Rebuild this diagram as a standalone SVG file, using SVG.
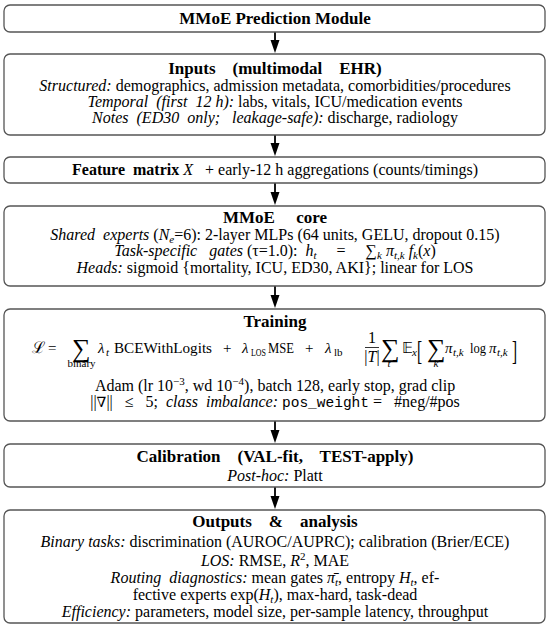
<svg xmlns="http://www.w3.org/2000/svg" width="550" height="630" viewBox="0 0 550 630">
<defs>
<style>
.box{fill:#fff;stroke:#555;stroke-width:1.3}
text{font-family:"Liberation Serif","Times New Roman",serif;font-size:16px;fill:#000}
.t{font-weight:bold;text-anchor:middle;font-size:17px}
.c{text-anchor:middle}
.i{font-style:italic}
.m{font-family:"Liberation Mono","Courier New",monospace;font-size:14.5px}
.s{font-size:11px}
.f{font-size:15px}
.fs{font-size:11px}
.sum{font-family:"Liberation Serif",serif;font-size:26px}
.br{font-size:18px}
.conn line{stroke:#000;stroke-width:1.8}
</style>
</defs>
<rect width="550" height="630" fill="#fff"/>

<g id="connectors" class="conn">
<line x1="275" y1="32" x2="275" y2="41"/><path d="M270.5,40 L279.5,40 L275,53 Z"/>
<line x1="275" y1="135" x2="275" y2="144"/><path d="M270.5,143 L279.5,143 L275,156 Z"/>
<line x1="275" y1="183" x2="275" y2="193"/><path d="M270.5,192 L279.5,192 L275,205 Z"/>
<line x1="275" y1="286" x2="275" y2="296"/><path d="M270.5,295 L279.5,295 L275,308 Z"/>
<line x1="275" y1="421" x2="275" y2="431"/><path d="M270.5,430 L279.5,430 L275,443 Z"/>
<line x1="275" y1="487" x2="275" y2="497"/><path d="M270.5,496 L279.5,496 L275,509 Z"/>
</g>

<g id="n-module">
<rect class="box" x="4" y="5" width="541" height="27" rx="6"/>
<text class="t" x="275" y="24">MMoE Prediction Module</text>
</g>

<g id="n-inputs">
<rect class="box" x="4" y="54" width="541" height="81" rx="6"/>
<text class="t" x="275" y="74" xml:space="preserve">Inputs    (multimodal    EHR)</text>
<text class="c" x="275" y="91"><tspan class="i">Structured:</tspan> demographics, admission metadata, comorbidities/procedures</text>
<text class="c" x="275" y="107" xml:space="preserve"><tspan class="i">Temporal  (first  12 h):</tspan> labs, vitals, ICU/medication events</text>
<text class="c" x="275" y="123" xml:space="preserve"><tspan class="i">Notes  (ED30  only;   leakage-safe):</tspan> discharge, radiology</text>
</g>

<g id="n-feature">
<rect class="box" x="4" y="157" width="541" height="26" rx="6"/>
<text class="c" x="275" y="175" xml:space="preserve"><tspan font-weight="bold">Feature  matrix</tspan> <tspan class="i">X</tspan>   + early-12 h aggregations (counts/timings)</text>
</g>

<g id="n-core">
<rect class="box" x="4" y="206" width="541" height="80" rx="6"/>
<text class="t" x="275" y="223" xml:space="preserve">MMoE     core</text>
<text class="c" x="275" y="240" xml:space="preserve"><tspan class="i">Shared  experts</tspan> (<tspan class="i">N</tspan><tspan class="i s" dy="3">e</tspan><tspan dy="-3">=6): 2-layer MLPs (64 units, GELU, dropout 0.15)</tspan></text>
<text class="c" x="275" y="256" xml:space="preserve"><tspan class="i">Task-specific   gates</tspan> (τ=1.0):  <tspan class="i">h</tspan><tspan class="i s" dy="3">t</tspan><tspan dy="-3">     =     ∑</tspan><tspan class="i s" dy="3">k</tspan><tspan dy="-3"> </tspan><tspan class="i">π</tspan><tspan class="i s" dy="3">t,k</tspan><tspan dy="-3"> </tspan><tspan class="i">f</tspan><tspan class="i s" dy="3">k</tspan><tspan dy="-3">(</tspan><tspan class="i">x</tspan>)</text>
<text class="c" x="275" y="273"><tspan class="i">Heads:</tspan> sigmoid {mortality, ICU, ED30, AKI}; linear for LOS</text>
</g>

<g id="n-training">
<rect class="box" x="4" y="309" width="541" height="112" rx="6"/>
<text class="t" x="275" y="327">Training</text>
<text x="32" y="353" font-size="16">ℒ</text>
<text x="48" y="353" class="f">=</text>
<text class="sum" x="72" y="357">∑</text>
<text x="81.5" y="367" class="fs c">binary</text>
<text x="98" y="353" class="f i">λ</text>
<text x="106" y="356" class="fs i">t</text>
<text x="114" y="353" class="f" textLength="98" lengthAdjust="spacingAndGlyphs">BCEWithLogits</text>
<text x="223" y="353" class="f">+</text>
<text x="242" y="353" class="f i">λ</text>
<text x="251" y="356" class="fs" textLength="15" lengthAdjust="spacingAndGlyphs">LOS</text>
<text x="268" y="353" class="f" textLength="26" lengthAdjust="spacingAndGlyphs">MSE</text>
<text x="305" y="353" class="f">+</text>
<text x="325" y="353" class="f i">λ</text>
<text x="334" y="356" class="fs">lb</text>
<text x="372" y="343" class="c" font-size="13">1</text>
<line x1="365" y1="347.5" x2="379" y2="347.5" stroke="#000" stroke-width="0.8"/>
<text x="372" y="362" class="c" font-size="13">|<tspan class="i">T</tspan>|</text>
<text class="sum" x="381" y="357">∑</text>
<text x="389" y="367" class="fs c i">t</text>
<text x="402" y="353" class="f">𝔼</text>
<text x="412" y="356" class="fs i">x</text>
<text class="br" transform="translate(417,360) scale(0.85,1.5)">[</text>
<text class="sum" x="427" y="357">∑</text>
<text x="436" y="367" class="fs c i">k</text>
<text x="445" y="353" class="f i">π</text>
<text x="453" y="356" class="fs i">t,k</text>
<text x="470" y="353" class="f" textLength="16" lengthAdjust="spacingAndGlyphs">log</text>
<text x="489" y="353" class="f i">π</text>
<text x="497" y="356" class="fs i">t,k</text>
<text class="br" transform="translate(512,360) scale(0.85,1.5)">]</text>
<text class="c" x="275" y="391">Adam (lr 10<tspan class="s" dy="-6">−3</tspan><tspan dy="6">, wd 10</tspan><tspan class="s" dy="-6">−4</tspan><tspan dy="6">), batch 128, early stop, grad clip</tspan></text>
<text class="c" x="275" y="407" xml:space="preserve">||<tspan font-family="DejaVu Serif" font-size="14">∇</tspan>||   ≤   5;  <tspan class="i">class  imbalance:</tspan> <tspan class="m">pos_weight</tspan> =   #neg/#pos</text>
</g>

<g id="n-calibration">
<rect class="box" x="4" y="444" width="541" height="43" rx="6"/>
<text class="t" x="275" y="462" xml:space="preserve">Calibration    (VAL-fit,    TEST-apply)</text>
<text class="c" x="275" y="481"><tspan class="i">Post-hoc:</tspan> Platt</text>
</g>

<g id="n-outputs">
<rect class="box" x="4" y="510" width="541" height="113" rx="6"/>
<text class="t" x="275" y="527" xml:space="preserve">Outputs    &amp;    analysis</text>
<text class="c" x="275" y="547"><tspan class="i">Binary tasks:</tspan> discrimination (AUROC/AUPRC); calibration (Brier/ECE)</text>
<text class="c" x="275" y="566"><tspan class="i">LOS:</tspan> RMSE, <tspan class="i">R</tspan><tspan class="s" dy="-6">2</tspan><tspan dy="6">, MAE</tspan></text>
<text class="c" x="275" y="583" xml:space="preserve"><tspan class="i">Routing  diagnostics:</tspan> mean gates <tspan class="i">π̄</tspan><tspan class="i s" dy="3">t</tspan><tspan dy="-3">, entropy </tspan><tspan class="i">H</tspan><tspan class="i s" dy="3">t</tspan><tspan dy="-3">, ef-</tspan></text>
<text class="c" x="275" y="600">fective experts exp(<tspan class="i">H</tspan><tspan class="i s" dy="3">t</tspan><tspan dy="-3">), max-hard, task-dead</tspan></text>
<text class="c" x="275" y="617"><tspan class="i">Efficiency:</tspan> parameters, model size, per-sample latency, throughput</text>
</g>
</svg>
